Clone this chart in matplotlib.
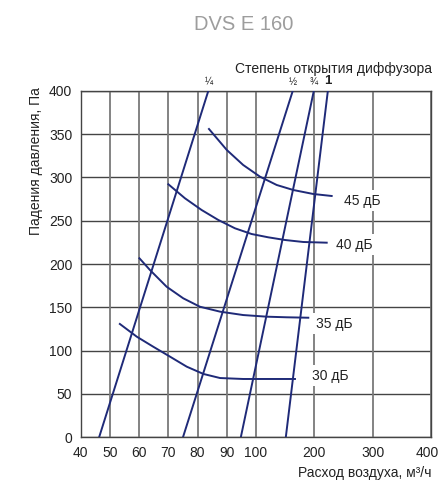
import numpy as np
import matplotlib
matplotlib.use("Agg")
import matplotlib.pyplot as plt
import matplotlib.transforms as mtransforms

plt.rcParams['font.family'] = ['Liberation Sans', 'DejaVu Sans']

# Diffuser opening lines (flow at 0 Pa, flow at 400 Pa)
openings = ["¼", "½", "¾", "1"]
open_flow_bottom = [46.3, 75.0, 94.8, 151.0]
open_flow_top = [83.7, 163.0, 199.0, 223.0]
open_dp = [0, 400]

# Noise curves
db_labels = ["45 дБ", "40 дБ", "35 дБ", "30 дБ"]
db45_x = [83.9, 90.0, 95.6, 106.8, 135.4, 163.8, 198.0, 229.5]
db45_y = [355.8, 331.6, 314.3, 300.8, 291.2, 285.4, 280.8, 278.5]
db40_x = [70.0, 75.7, 81.4, 87.1, 92.8, 98.5, 121.0, 149.6, 180.9, 221.0]
db40_y = [292.0, 275.8, 262.3, 250.8, 241.2, 234.6, 230.8, 227.7, 225.4, 224.6]
db35_x = [60.1, 63.7, 69.4, 75.1, 80.8, 87.7, 95.6, 118.3, 152.5, 189.5]
db35_y = [206.6, 193.1, 173.8, 160.4, 150.7, 145.0, 141.1, 139.2, 138.5, 138.0]
db30_x = [53.4, 59.2, 64.8, 70.6, 76.3, 82.0, 87.7, 95.6, 123.9, 166.7]
db30_y = [130.8, 116.1, 104.6, 93.0, 81.5, 73.1, 68.4, 67.3, 67.3, 67.3]

x_ticks = [40, 50, 60, 70, 80, 90, 100, 200, 300, 400]
y_ticks = [0, 50, 100, 150, 200, 250, 300, 350, 400]


def fwd(x):
    x = np.asarray(x, dtype=float)
    return np.where(x <= 100, x / 10.0, 10.0 + (x - 100.0) / 50.0)


def inv(u):
    u = np.asarray(u, dtype=float)
    return np.where(u <= 10, u * 10.0, 100.0 + (u - 10.0) * 50.0)


fig = plt.figure(figsize=(4.39, 4.82), dpi=100)
ax = fig.add_axes([80.7 / 439, 1 - 437.3 / 482, (431.3 - 80.7) / 439, (437.3 - 90.7) / 482])
ax.set_xscale('function', functions=(fwd, inv))
ax.set_xlim(40, 400)
ax.set_ylim(0, 400)

navy = '#1f2a78'
txt = '#222222'
for yt in y_ticks:
    ax.axhline(yt, color='#444444', lw=1.0, zorder=1)
for xt in x_ticks:
    ax.axvline(xt, color='#7a7a7a', lw=1.3, zorder=1)

for xb, xt in zip(open_flow_bottom, open_flow_top):
    ax.plot([xb, xt], open_dp, color=navy, lw=1.4, zorder=3, solid_capstyle='butt')

for xs, ys in [(db45_x, db45_y), (db40_x, db40_y), (db35_x, db35_y), (db30_x, db30_y)]:
    ax.plot(xs, ys, color=navy, lw=1.4, zorder=3, solid_joinstyle='round')

label_pos = [(251, 273), (236.5, 222), (202, 131), (195, 71)]
for lab, (lx, ly) in zip(db_labels, label_pos):
    ax.text(lx, ly, lab, fontsize=10, color=txt, ha='left', va='center', zorder=4,
            bbox=dict(facecolor='white', edgecolor='none', pad=2.5))

for lab, xt in zip(openings, open_flow_top):
    if lab == "1":
        ax.text(xt, 404, lab, fontsize=9.5, fontweight='bold', ha='center', va='bottom', color=txt)
    else:
        ax.text(xt, 404, lab, fontsize=7, ha='center', va='bottom', color=txt)

ax.set_xticks(x_ticks)
ax.set_xticklabels([str(v) for v in x_ticks])
ax.set_yticks(y_ticks)
ax.set_yticklabels([str(v) for v in y_ticks])
ax.minorticks_off()
ax.tick_params(axis='both', length=0, labelsize=10, colors=txt, pad=6)
last = ax.get_xticklabels()[-1]
last.set_transform(last.get_transform() + mtransforms.ScaledTranslation(-4 / 100, 0, fig.dpi_scale_trans))
for s in ax.spines.values():
    s.set_color('#444444')
    s.set_linewidth(1.0)

fig.text(244 / 439, 1 - 25 / 482, "DVS E 160", fontsize=14.5, color='#9d9d9d', ha='center', va='center')
fig.text(432 / 439, 1 - 69 / 482, "Степень открытия диффузора", fontsize=10, color=txt,
         ha='right', va='center')
fig.text(36 / 439, 1 - 161 / 482, "Падения давления, Па", fontsize=10, color=txt,
         ha='center', va='center', rotation=90)
fig.text(432 / 439, 1 - 473 / 482, "Расход воздуха, м³/ч", fontsize=10, color=txt,
         ha='right', va='center')

fig.savefig("out.png", dpi=100)
